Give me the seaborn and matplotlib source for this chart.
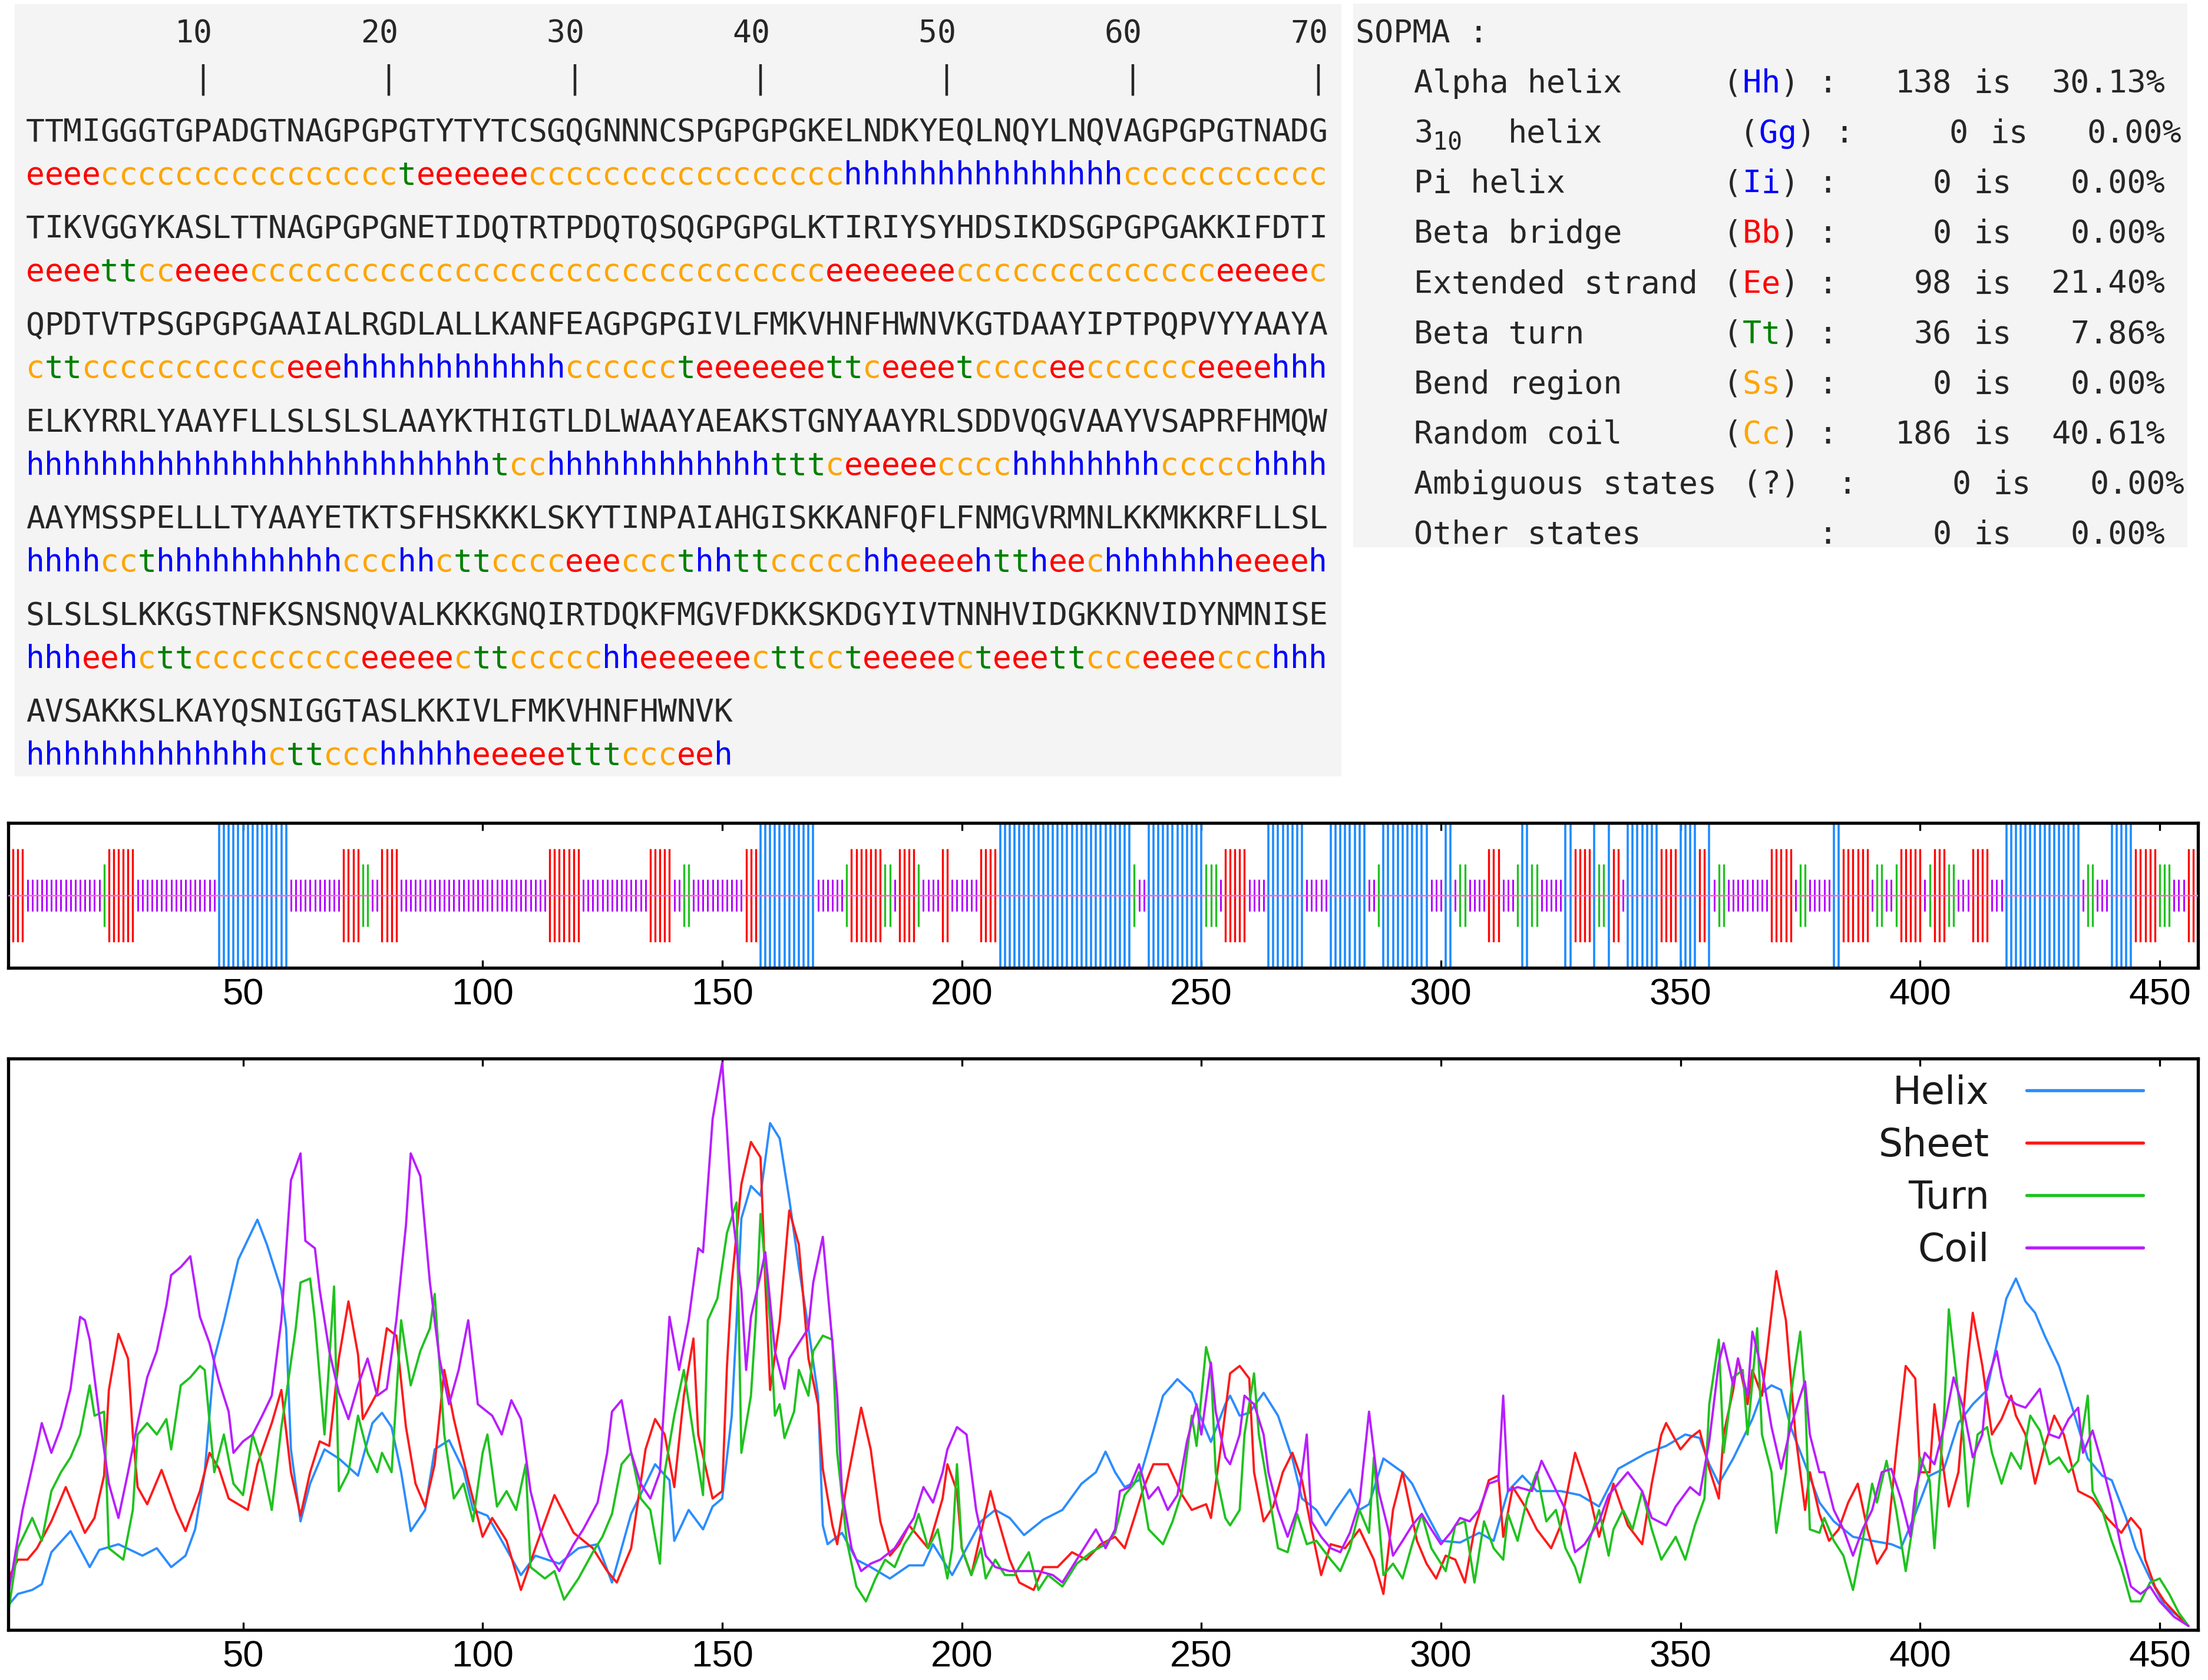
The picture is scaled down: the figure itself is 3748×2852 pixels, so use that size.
import matplotlib
matplotlib.use("Agg")
import matplotlib.pyplot as plt
from matplotlib.patches import Rectangle
import pandas as pd
import seaborn as sns

# --- sequence and SOPMA prediction (70 residues per line) ---
seq_lines = [
    "TTMIGGGTGPADGTNAGPGPGTYTYTCSGQGNNNCSPGPGPGKELNDKYEQLNQYLNQVAGPGPGTNADG",
    "TIKVGGYKASLTTNAGPGPGNETIDQTRTPDQTQSQGPGPGLKTIRIYSYHDSIKDSGPGPGAKKIFDTI",
    "QPDTVTPSGPGPGAAIALRGDLALLKANFEAGPGPGIVLFMKVHNFHWNVKGTDAAYIPTPQPVYYAAYA",
    "ELKYRRLYAAYFLLSLSLSLAAYKTHIGTLDLWAAYAEAKSTGNYAAYRLSDDVQGVAAYVSAPRFHMQW",
    "AAYMSSPELLLTYAAYETKTSFHSKKKLSKYTINPAIAHGISKKANFQFLFNMGVRMNLKKMKKRFLLSL",
    "SLSLSLKKGSTNFKSNSNQVALKKKGNQIRTDQKFMGVFDKKSKDGYIVTNNHVIDGKKNVIDYNMNISE",
    "AVSAKKSLKAYQSNIGGTASLKKIVLFMKVHNFHWNVK",
]
struct_lines = [
    "eeeecccccc" "cccccccccc" "teeeeeeccc" "cccccccccc" "cccchhhhhh" "hhhhhhhhhc" "cccccccccc",
    "eeeettccee" "eecccccccc" "cccccccccc" "cccccccccc" "ccceeeeeee" "cccccccccc" "cccceeeeec",
    "cttccccccc" "cccceeehhh" "hhhhhhhhhc" "cccccteeee" "eeettceeee" "tcccceeccc" "ccceeeehhh",
    "hhhhhhhhhh" "hhhhhhhhhh" "hhhhhtcchh" "hhhhhhhhhh" "tttceeeeec" "ccchhhhhhh" "hccccchhhh",
    "hhhhccthhh" "hhhhhhhccc" "hhcttcccce" "eecccthhtt" "ccccchheee" "ehttheechh" "hhhhheeeeh",
    "hhheehcttc" "ccccccccee" "eeecttcccc" "chheeeeeec" "ttccteeeee" "cteeettccc" "eeeeccchhh",
    "hhhhhhhhhh" "hhhcttccch" "hhhheeeeet" "ttccceeh",
]

# --- SOPMA summary table ---
stat_names = ["Alpha helix", "3|10 helix", "Pi helix", "Beta bridge", "Extended strand",
              "Beta turn", "Bend region", "Random coil", "Ambiguous states", "Other states"]
stat_codes = ["Hh", "Gg", "Ii", "Bb", "Ee", "Tt", "Ss", "Cc", "?", ""]
stat_counts = ["138", "0", "0", "0", "98", "36", "0", "186", "0", "0"]
stat_pcts = ["30.13%", "0.00%", "0.00%", "0.00%", "21.40%", "7.86%", "0.00%", "40.61%", "0.00%", "0.00%"]

# --- prediction profiles (residue, score as fraction of plot height) ---
helix_pts = [
    (1, .043), (3, .063), (6, .07), (8, .08), (10, .136), (14, .173), (18, .11), (20, .14), (24, .15),
    (29, .13), (32, .143), (35, .11), (38, .13), (40, .176), (42, .276), (44, .475), (46, .54),
    (49, .648), (53, .718), (55, .674), (58, .595), (59, .528), (60, .316), (62, .19), (64, .256),
    (67, .316), (70, .30), (74, .27), (77, .362), (79, .38), (81, .355), (83, .276), (85, .173),
    (88, .21), (90, .316), (93, .332), (96, .28), (98, .21), (101, .2), (104, .156), (108, .096),
    (111, .13), (116, .116), (120, .143), (124, .15), (127, .083), (131, .203), (136, .29),
    (139, .262), (140, .156), (143, .21), (146, .176), (148, .216), (150, .23), (152, .375),
    (153, .54), (154, .72), (156, .777), (158, .76), (160, .887), (162, .86), (164, .754),
    (166, .635), (168, .528), (170, .41), (171, .183), (172, .15), (175, .17), (178, .123),
    (181, .11), (185, .09), (189, .113), (192, .113), (194, .15), (198, .096), (201, .143),
    (204, .19), (207, .21), (210, .196), (213, .166), (217, .193), (221, .21), (225, .256),
    (228, .276), (230, .312), (232, .276), (234, .25), (237, .262), (240, .349), (242, .41),
    (245, .439), (248, .415), (250, .369), (252, .329), (255, .395), (256, .41), (258, .375),
    (260, .38), (263, .415), (266, .375), (269, .30), (271, .23), (274, .21), (276, .183),
    (278, .21), (281, .246), (283, .21), (285, .22), (288, .30), (292, .276), (294, .256),
    (297, .203), (300, .156), (304, .153), (308, .17), (311, .156), (314, .243), (317, .27),
    (320, .243), (325, .243), (329, .236), (333, .216), (337, .282), (340, .296), (343, .31),
    (347, .322), (351, .342), (354, .336), (356, .29), (358, .256), (361, .30), (365, .369),
    (367, .415), (369, .428), (371, .42), (373, .355), (376, .29), (379, .223), (382, .19),
    (386, .163), (390, .156), (394, .15), (396, .143), (399, .203), (402, .27), (405, .282),
    (408, .362), (411, .395), (414, .42), (416, .5), (418, .58), (420, .615), (422, .575),
    (424, .555), (426, .515), (429, .462), (431, .41), (433, .355), (435, .30), (438, .27),
    (440, .262), (443, .196), (445, .143), (448, .09), (451, .043), (454, .023), (456, .007),
]
sheet_pts = [
    (1, .09), (3, .123), (5, .123), (7, .143), (10, .19), (13, .25), (15, .21), (17, .17), (19, .196),
    (21, .27), (22, .42), (24, .518), (26, .475), (27, .342), (28, .25), (30, .22), (33, .28),
    (36, .21), (38, .173), (41, .243), (43, .31), (45, .282), (47, .23), (51, .21), (53, .29),
    (56, .362), (58, .42), (60, .276), (62, .2), (64, .276), (66, .33), (68, .322), (70, .475),
    (72, .575), (74, .482), (75, .369), (78, .415), (80, .528), (82, .515), (84, .355), (86, .256),
    (88, .216), (90, .29), (92, .455), (94, .369), (97, .262), (100, .163), (102, .196), (105, .156),
    (108, .07), (111, .143), (115, .236), (119, .17), (123, .143), (126, .103), (128, .083),
    (131, .143), (134, .316), (136, .369), (138, .342), (140, .25), (142, .41), (144, .51),
    (145, .342), (148, .23), (150, .243), (151, .462), (152, .608), (154, .78), (156, .854),
    (158, .827), (159, .608), (160, .42), (162, .54), (164, .734), (166, .674), (168, .475),
    (170, .395), (171, .282), (173, .183), (174, .15), (176, .256), (179, .389), (181, .316),
    (183, .19), (185, .13), (187, .15), (189, .183), (191, .163), (193, .143), (196, .23),
    (197, .29), (199, .243), (200, .143), (202, .096), (204, .17), (206, .243), (207, .21),
    (210, .123), (212, .083), (215, .07), (217, .11), (220, .11), (223, .136), (226, .123),
    (229, .15), (232, .163), (234, .143), (236, .196), (238, .25), (240, .29), (243, .29),
    (246, .236), (248, .21), (251, .22), (252, .196), (254, .316), (256, .449), (258, .462),
    (260, .44), (261, .276), (263, .19), (265, .216), (267, .276), (269, .31), (271, .262),
    (273, .176), (275, .096), (277, .15), (280, .143), (283, .176), (286, .123), (288, .063),
    (290, .21), (292, .276), (293, .236), (295, .156), (297, .116), (299, .09), (301, .13),
    (303, .123), (305, .083), (307, .176), (310, .262), (312, .27), (313, .163), (315, .25),
    (318, .21), (320, .176), (323, .143), (325, .183), (328, .31), (331, .236), (333, .163),
    (336, .256), (339, .183), (342, .15), (344, .256), (346, .342), (347, .362), (350, .316),
    (352, .336), (354, .349), (356, .282), (358, .23), (359, .342), (361, .42), (362, .475),
    (364, .395), (365, .455), (367, .41), (369, .555), (370, .628), (372, .542), (374, .342),
    (376, .21), (377, .276), (379, .203), (381, .156), (383, .176), (385, .223), (387, .256),
    (389, .176), (391, .116), (393, .143), (395, .31), (397, .462), (399, .44), (400, .276),
    (402, .276), (403, .395), (405, .276), (406, .216), (408, .276), (410, .475), (411, .555),
    (413, .462), (415, .342), (417, .369), (419, .41), (420, .375), (422, .342), (424, .256),
    (426, .322), (428, .375), (430, .342), (433, .243), (436, .23), (439, .196), (442, .17),
    (444, .196), (446, .176), (447, .123), (449, .076), (451, .05), (454, .023), (456, .007),
]
turn_pts = [
    (1, .03), (3, .143), (6, .196), (8, .156), (10, .243), (12, .276), (14, .302), (16, .342),
    (18, .428), (19, .375), (21, .382), (22, .143), (25, .123), (27, .21), (28, .342), (30, .362),
    (32, .342), (34, .369), (35, .316), (37, .428), (39, .442), (41, .462), (42, .455), (44, .276),
    (46, .342), (48, .256), (50, .236), (52, .342), (54, .29), (56, .21), (58, .355), (59, .41),
    (61, .528), (62, .608), (64, .615), (65, .542), (67, .342), (69, .601), (70, .243), (72, .276),
    (74, .375), (76, .31), (78, .276), (79, .31), (81, .276), (83, .542), (85, .428), (87, .488),
    (89, .528), (90, .588), (92, .342), (94, .23), (96, .256), (98, .19), (100, .31), (101, .342),
    (103, .216), (105, .243), (107, .21), (109, .29), (110, .11), (113, .09), (115, .103),
    (117, .053), (120, .09), (123, .136), (125, .163), (127, .203), (129, .29), (131, .31),
    (133, .23), (135, .21), (137, .116), (138, .276), (140, .375), (142, .455), (144, .342),
    (146, .236), (147, .542), (149, .58), (151, .695), (153, .748), (154, .31), (156, .41),
    (157, .54), (158, .728), (160, .54), (161, .375), (162, .395), (163, .336), (165, .382),
    (166, .455), (168, .41), (169, .488), (171, .515), (173, .508), (174, .31), (176, .156),
    (178, .076), (180, .05), (182, .09), (184, .123), (186, .11), (188, .15), (190, .176),
    (191, .203), (193, .143), (195, .176), (197, .09), (198, .143), (199, .29), (200, .143),
    (202, .096), (204, .143), (205, .09), (207, .123), (209, .096), (211, .096), (214, .136),
    (216, .07), (218, .096), (221, .076), (224, .116), (227, .136), (230, .15), (232, .17),
    (234, .236), (236, .256), (237, .276), (239, .176), (242, .15), (244, .19), (246, .243),
    (248, .375), (249, .322), (251, .495), (252, .462), (253, .276), (255, .196), (256, .183),
    (258, .21), (259, .342), (261, .449), (262, .342), (264, .243), (266, .143), (268, .136),
    (270, .203), (272, .15), (274, .156), (277, .123), (279, .103), (281, .143), (283, .21),
    (285, .17), (286, .302), (288, .096), (290, .116), (292, .09), (294, .15), (296, .203),
    (298, .143), (301, .103), (303, .183), (305, .19), (307, .083), (309, .19), (311, .143),
    (313, .123), (314, .203), (316, .156), (318, .23), (320, .276), (322, .19), (324, .21),
    (326, .143), (328, .11), (329, .083), (331, .156), (333, .21), (335, .13), (336, .176),
    (338, .21), (340, .176), (342, .243), (344, .176), (346, .123), (349, .163), (351, .123),
    (353, .183), (355, .23), (356, .395), (358, .508), (359, .31), (361, .442), (363, .455),
    (364, .342), (366, .528), (367, .342), (369, .276), (370, .17), (372, .276), (373, .41),
    (375, .522), (376, .41), (377, .176), (379, .17), (380, .196), (382, .156), (384, .13),
    (386, .07), (388, .156), (390, .256), (391, .223), (393, .296), (395, .21), (397, .103),
    (399, .21), (400, .302), (402, .262), (403, .143), (405, .375), (406, .561), (408, .41),
    (409, .342), (410, .216), (412, .342), (414, .355), (415, .31), (417, .256), (419, .31),
    (421, .282), (423, .375), (425, .349), (427, .29), (429, .302), (431, .276), (433, .296),
    (435, .41), (436, .243), (438, .21), (440, .156), (442, .11), (444, .05), (446, .05),
    (448, .083), (450, .09), (452, .063), (454, .03), (456, .007),
]
coil_pts = [
    (1, .063), (2, .11), (4, .21), (7, .322), (8, .362), (10, .31), (12, .355), (14, .422),
    (16, .548), (17, .542), (18, .508), (20, .375), (22, .256), (24, .196), (26, .276), (28, .362),
    (30, .442), (32, .488), (34, .568), (35, .621), (37, .635), (39, .654), (41, .548), (43, .502),
    (45, .435), (47, .382), (48, .31), (50, .33), (52, .342), (54, .375), (56, .41), (58, .542),
    (60, .787), (62, .834), (63, .681), (65, .668), (66, .595), (68, .488), (70, .415), (72, .369),
    (74, .428), (76, .475), (78, .41), (80, .422), (82, .542), (84, .708), (85, .834), (87, .794),
    (89, .608), (91, .475), (93, .395), (95, .455), (97, .542), (99, .395), (102, .375),
    (104, .342), (106, .402), (108, .369), (110, .243), (112, .176), (114, .13), (116, .103),
    (119, .15), (121, .176), (124, .223), (126, .31), (127, .382), (129, .402), (131, .31),
    (133, .256), (135, .23), (137, .276), (139, .548), (141, .455), (143, .542), (145, .668),
    (146, .661), (148, .894), (150, .993), (151, .874), (152, .74), (153, .668), (154, .595),
    (155, .455), (156, .548), (158, .621), (159, .661), (161, .488), (163, .422), (164, .475),
    (166, .502), (168, .528), (169, .608), (171, .688), (172, .595), (174, .41), (175, .243),
    (177, .143), (179, .103), (181, .116), (183, .123), (186, .143), (188, .17), (190, .196),
    (192, .25), (194, .223), (196, .276), (197, .316), (199, .355), (201, .342), (203, .21),
    (205, .13), (207, .11), (210, .103), (213, .103), (216, .103), (219, .096), (221, .083),
    (224, .123), (227, .163), (228, .176), (230, .143), (232, .176), (233, .243), (235, .25),
    (237, .29), (239, .23), (241, .25), (243, .21), (245, .236), (247, .33), (249, .395),
    (250, .342), (252, .468), (253, .382), (255, .302), (256, .29), (258, .342), (259, .41),
    (261, .395), (263, .342), (264, .276), (266, .21), (268, .163), (270, .21), (272, .342),
    (273, .19), (275, .163), (277, .143), (279, .136), (281, .17), (283, .223), (285, .382),
    (287, .243), (289, .176), (290, .13), (292, .156), (294, .183), (296, .203), (298, .176),
    (300, .15), (302, .17), (304, .196), (306, .19), (308, .21), (310, .256), (312, .262),
    (313, .41), (314, .243), (316, .25), (319, .243), (321, .296), (323, .262), (326, .21),
    (328, .136), (330, .15), (333, .19), (335, .236), (337, .256), (339, .276), (342, .243),
    (344, .196), (347, .183), (349, .216), (352, .25), (354, .236), (356, .33), (358, .468),
    (359, .502), (361, .428), (362, .475), (364, .41), (365, .522), (367, .455), (369, .355),
    (371, .282), (373, .355), (375, .41), (376, .435), (377, .342), (379, .276), (380, .276),
    (382, .21), (384, .176), (386, .13), (388, .176), (390, .21), (392, .276), (394, .282),
    (396, .23), (398, .163), (399, .243), (401, .31), (403, .29), (405, .355), (407, .442),
    (409, .389), (411, .302), (413, .342), (414, .435), (416, .488), (417, .442), (418, .41),
    (420, .395), (422, .389), (425, .422), (427, .342), (429, .336), (431, .369), (433, .389),
    (434, .31), (436, .349), (438, .29), (440, .223), (442, .143), (444, .076), (446, .063),
    (448, .076), (450, .05), (453, .023), (456, .007),
]

states = ["Helix", "Sheet", "Turn", "Coil"]
line_colors = {"Helix": "#2b8cff", "Sheet": "#ff1a1a", "Turn": "#1fc21f", "Coil": "#b81eff"}
text_colors = {"h": "#0000ff", "e": "#ff0000", "t": "#008000", "c": "#ffa500"}
code_colors = {"Hh": "#0000ff", "Gg": "#0000ff", "Ii": "#0000ff", "Bb": "#ff0000",
               "Ee": "#ff0000", "Tt": "#008000", "Ss": "#ffa500", "Cc": "#ffa500", "?": "#262626"}

W, H, DPI = 3748, 2852, 240
sns.set_theme(style="white")
plt.rcParams["font.family"] = ["DejaVu Sans"]
MONO = "DejaVu Sans Mono"
DARK = "#262626"

fig = plt.figure(figsize=(W / DPI, H / DPI), dpi=DPI)
fig.patch.set_facecolor("white")

# pixel canvas for the two text panels
canvas = fig.add_axes([0, 0, 1, 1])
canvas.set_xlim(0, W)
canvas.set_ylim(H, 0)
canvas.axis("off")
canvas.add_patch(Rectangle((25, 7), 2252, 1311, color="#f4f4f4", lw=0))
canvas.add_patch(Rectangle((2297, 6), 1416, 923, color="#f4f4f4", lw=0))

X0, CW = 44, 31.56


def put_row(chars, colors, baseline, size=15.9):
    for i, (ch, col) in enumerate(zip(chars, colors)):
        if ch != " ":
            canvas.text(X0 + (i + 0.5) * CW, baseline, ch, color=col, family=MONO,
                        fontsize=size, ha="center", va="baseline")


ruler = "".join(f"{n:>10}" for n in range(10, 80, 10))
ticks_row = "".join(f"{'|':>10}" for n in range(10, 80, 10))
put_row(ruler, [DARK] * len(ruler), 72)
put_row(ticks_row, [DARK] * len(ticks_row), 150)
for k, (s, p) in enumerate(zip(seq_lines, struct_lines)):
    put_row(s, [DARK] * len(s), 240 + k * 164.2)
    put_row(p, [text_colors[c] for c in p], 313 + k * 164.2)

# summary table
SW = 32.4
canvas.text(2301, 72, "SOPMA :", family=MONO, fontsize=16, color=DARK, va="baseline")
row_shift = [0, 28, 0, 0, 0, 0, 0, 0, 33, 0]
for k, name in enumerate(stat_names):
    b = 72 + (k + 1) * 85.1
    sh = row_shift[k]
    if name.startswith("3|"):
        canvas.text(2400, b, "3", family=MONO, fontsize=16, color=DARK, va="baseline")
        canvas.text(2432, b + 12, "10", family=MONO, fontsize=12.5, color=DARK, va="baseline")
        canvas.text(2560, b, "helix", family=MONO, fontsize=16, color=DARK, va="baseline")
    else:
        canvas.text(2400, b, name, family=MONO, fontsize=16, color=DARK, va="baseline")
    code = stat_codes[k]
    if code:
        parts = [("(", DARK)] + [(c, code_colors[code]) for c in code] + [(")", DARK)]
        for j, (ch, col) in enumerate(parts):
            canvas.text(2925 + sh + j * SW, b, ch, family=MONO, fontsize=16, color=col, va="baseline")
    canvas.text(3102 + sh, b, ":", family=MONO, fontsize=16, color=DARK, va="baseline", ha="center")
    canvas.text(3313 + sh, b, stat_counts[k], family=MONO, fontsize=16, color=DARK, va="baseline", ha="right")
    canvas.text(3350 + sh, b, "is", family=MONO, fontsize=16, color=DARK, va="baseline")
    canvas.text(3675 + sh, b, stat_pcts[k], family=MONO, fontsize=16, color=DARK, va="baseline", ha="right")

# --- residue-by-residue structure strip ---
struct = "".join(struct_lines)
bar_colors = {"h": "#1e8cff", "e": "#ff0000", "t": "#1fc21f", "c": "#b400ff"}
bar_half = {"h": 0.5, "e": 0.322, "t": 0.216, "c": 0.11}
bar_lw = {"h": 1.1, "e": 1.0, "t": 1.0, "c": 0.9}

ax1 = fig.add_axes([14 / W, 1 - 1643 / H, (3731 - 14) / W, (1643 - 1397) / H])
for st in ["c", "t", "e", "h"]:
    pos = [i + 1 for i, ch in enumerate(struct) if ch == st]
    ax1.vlines(pos, 0.5 - bar_half[st], 0.5 + bar_half[st], colors=bar_colors[st], lw=bar_lw[st])
ax1.axhline(0.5, color="#ff6ad5", lw=0.8, zorder=3)
ax1.set_xlim(1, 458)
ax1.set_ylim(0, 1)

# --- prediction profile curves ---
frames = []
for name, pts in zip(states, [helix_pts, sheet_pts, turn_pts, coil_pts]):
    frames.append(pd.DataFrame({"residue": [p[0] for p in pts],
                                "score": [p[1] for p in pts],
                                "state": name}))
df = pd.concat(frames, ignore_index=True)

ax2 = fig.add_axes([14 / W, 1 - 2767 / H, (3731 - 14) / W, (2767 - 1797) / H])
sns.lineplot(data=df, x="residue", y="score", hue="state", hue_order=states,
             palette=line_colors, linewidth=1.15, errorbar=None, legend=False, ax=ax2)
ax2.set_xlim(1, 458)
ax2.set_ylim(0, 1)
ax2.set_xlabel("")
ax2.set_ylabel("")
leg = ax2.legend(ax2.lines[:4], states, loc="upper right", bbox_to_anchor=(0.975, 0.972),
                 markerfirst=False, frameon=False, fontsize=19.5, handlelength=3.05,
                 handletextpad=0.97, labelspacing=0.385, borderpad=0, borderaxespad=0)
for t in leg.get_texts():
    t.set_color("#1a1a1a")
for h in leg.legend_handles:
    h.set_linewidth(1.6)

for ax in (ax1, ax2):
    ax.set_xticks(range(50, 451, 50))
    ax.set_yticks([])
    ax.tick_params(axis="x", direction="in", top=True, bottom=True, length=4, width=1,
                   color="black", labelsize=19, pad=5)
    for lab in ax.get_xticklabels():
        lab.set_family("Liberation Sans")
        lab.set_color("black")
    for sp in ax.spines.values():
        sp.set_visible(True)
        sp.set_color("black")
        sp.set_linewidth(1.6)
    ax.set_facecolor("white")

fig.savefig("out.png", dpi=DPI)
